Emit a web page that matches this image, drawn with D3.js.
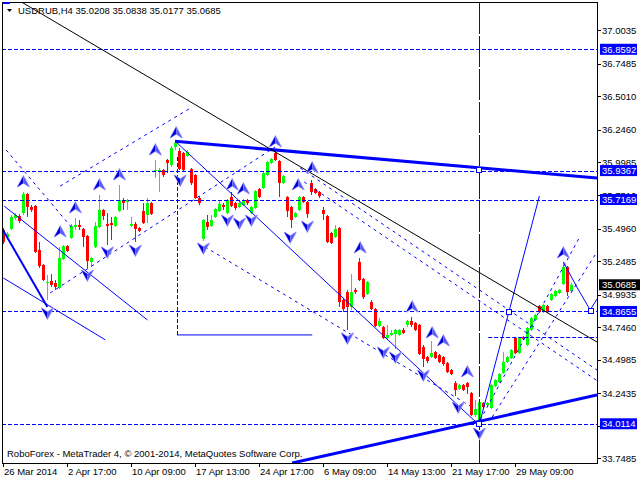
<!DOCTYPE html>
<html><head><meta charset="utf-8">
<script src="https://cdn.jsdelivr.net/npm/d3@7"></script>
<style>
body{margin:0;background:#fff}
svg{display:block}
text{font-family:"Liberation Sans",Arial,sans-serif;font-size:9.5px}
</style>
</head><body>
<svg id="c" width="640" height="480"></svg>
<script>
// ---------- data ----------
const symbolLabel = "USDRUB,H4";
const lastQuote = [35.0208, 35.0838, 35.0177, 35.0685];
const footer = "RoboForex - MetaTrader 4, \u00A9 2001-2014, MetaQuotes Software Corp.";

const opens = [35.485,35.432,35.493,35.576,35.591,35.614,35.759,35.660,35.668,35.333,35.219,35.082,35.097,35.082,35.044,35.264,35.363,35.424,35.508,35.523,
35.493,35.439,35.242,35.356,35.508,35.637,35.531,35.538,35.515,35.629,35.713,35.698,35.515,35.531,35.500,35.629,35.599,35.690,35.934,35.926,
35.941,36.017,35.979,36.116,36.086,36.071,36.048,35.949,35.903,35.728,35.417,35.546,35.515,35.584,35.629,35.675,35.614,35.736,35.690,35.660,
35.675,35.713,35.614,35.652,35.797,35.804,35.903,35.995,36.071,36.010,35.842,35.736,35.660,35.584,35.637,35.736,35.698,35.842,35.797,35.774,
35.637,35.591,35.462,35.432,35.500,34.953,35.013,34.899,35.029,35.242,35.112,34.998,34.937,34.884,34.755,34.747,34.664,34.687,34.694,34.687,
34.725,34.763,34.793,34.778,34.763,34.595,34.519,34.519,34.557,34.534,34.519,34.473,34.420,34.321,34.276,34.306,34.321,34.245,34.078,34.017,
34.169,34.154,34.131,34.298,34.329,34.397,34.481,34.511,34.664,34.549,34.671,34.611,34.725,34.801,34.907,34.861,34.907,34.953,34.983,35.006,
35.074,35.204,35.0208];
const highs = [35.500,35.470,35.599,35.614,35.607,35.774,35.766,35.675,35.675,35.394,35.226,35.143,35.150,35.105,35.356,35.371,35.371,35.531,35.576,35.561,
35.500,35.447,35.280,35.546,35.751,35.645,35.614,35.584,35.591,35.827,35.728,35.721,35.584,35.546,35.508,35.690,35.728,35.698,36.017,35.957,
35.949,36.025,36.124,36.162,36.109,36.078,36.093,35.957,35.911,35.743,35.569,35.599,35.599,35.652,35.713,35.690,35.721,35.774,35.698,35.706,
35.721,35.721,35.668,35.789,35.804,35.926,36.010,36.033,36.086,36.017,35.903,35.743,35.668,35.622,35.743,35.743,35.706,35.865,35.804,35.781,
35.660,35.599,35.470,35.523,35.508,34.968,35.029,35.150,35.044,35.272,35.120,35.097,34.953,34.892,34.816,34.755,34.763,34.725,34.732,34.732,
34.740,34.801,34.823,34.785,34.770,34.611,34.527,34.641,34.565,34.542,34.527,34.481,34.428,34.336,34.314,34.314,34.329,34.253,34.192,34.185,
34.177,34.177,34.314,34.352,34.397,34.557,34.527,34.580,34.671,34.671,34.679,34.747,34.823,34.846,34.915,34.922,34.915,35.006,35.029,35.036,
35.242,35.211,35.0838];
const lows = [35.378,35.409,35.485,35.561,35.538,35.599,35.584,35.622,35.310,35.196,35.097,34.953,35.052,35.029,35.036,35.257,35.318,35.417,35.485,35.485,
35.356,35.196,35.204,35.348,35.500,35.561,35.371,35.409,35.508,35.622,35.637,35.637,35.508,35.394,35.470,35.531,35.538,35.599,35.880,35.774,
35.888,35.918,35.964,36.093,35.941,35.934,36.040,35.827,35.721,35.675,35.401,35.485,35.508,35.576,35.622,35.637,35.607,35.660,35.637,35.652,
35.668,35.675,35.607,35.645,35.728,35.797,35.895,35.987,36.010,35.736,35.835,35.584,35.500,35.576,35.629,35.690,35.576,35.751,35.759,35.728,
35.561,35.386,35.378,35.424,34.899,34.861,34.725,34.877,34.998,35.097,34.960,34.991,34.877,34.747,34.747,34.656,34.648,34.679,34.580,34.679,
34.694,34.747,34.747,34.717,34.534,34.443,34.473,34.511,34.504,34.473,34.451,34.397,34.382,34.223,34.268,34.261,34.238,34.070,34.063,34.0114,
34.131,34.146,34.124,34.291,34.321,34.390,34.473,34.504,34.542,34.542,34.648,34.603,34.717,34.793,34.854,34.854,34.854,34.945,34.975,34.998,
35.067,34.983,35.0177];
const closes = [35.394,35.455,35.584,35.599,35.553,35.759,35.660,35.637,35.318,35.211,35.105,35.090,35.067,35.052,35.272,35.363,35.325,35.515,35.523,35.508,
35.432,35.249,35.272,35.515,35.637,35.591,35.515,35.523,35.584,35.713,35.690,35.713,35.531,35.493,35.477,35.538,35.690,35.607,35.941,35.941,
35.903,35.995,36.109,36.147,35.949,35.941,36.078,35.842,35.728,35.690,35.561,35.508,35.561,35.645,35.683,35.660,35.713,35.668,35.652,35.690,
35.713,35.690,35.660,35.781,35.736,35.918,36.002,36.025,36.017,35.842,35.895,35.629,35.561,35.614,35.736,35.698,35.607,35.774,35.766,35.743,
35.607,35.394,35.386,35.493,34.937,34.884,34.899,35.013,35.013,35.105,34.975,35.090,34.884,34.755,34.793,34.664,34.687,34.702,34.725,34.725,
34.702,34.793,34.763,34.725,34.542,34.504,34.489,34.549,34.511,34.481,34.466,34.405,34.390,34.268,34.306,34.268,34.291,34.078,34.124,34.177,
34.139,34.169,34.306,34.344,34.390,34.481,34.519,34.572,34.549,34.664,34.656,34.740,34.816,34.839,34.861,34.915,34.861,34.998,35.021,35.029,
35.204,35.013,35.0685];

const xTickIndex  = [0, 16, 32, 48, 64, 80, 96, 112, 128];
const xTickLabels = ["26 Mar 2014","2 Apr 17:00","10 Apr 09:00","17 Apr 13:00","24 Apr 17:00","6 May 09:00","14 May 13:00","21 May 17:00","29 May 09:00"];
const yTicks = [37.0035,36.7485,36.5010,36.2460,35.9985,35.7510,35.4960,35.2485,34.9935,34.7460,34.4985,34.2435,33.9960,33.7485];
const yTickHidden = [33.9960];
const levelPrices = [36.8592, 35.9367, 35.7169, 34.8655, 34.0114];

// arrow markers: [bar index, price]
const upArrows = [[5.1,35.850],[14.3,35.470],[18.1,35.652],[24.1,35.827],[29.1,35.903],[38.1,36.093],[43.3,36.223],
  [57.3,35.827],[60.1,35.797],[68.1,36.154],[73.8,35.827],[77.3,35.956],[89.3,35.348],[102.3,34.899],[107.3,34.702],
  [110.1,34.641],[116.1,34.405],[140.1,35.310]];
const downArrows = [[11.1,34.854],[21.1,35.143],[26.1,35.318],[33.1,35.333],[44.3,35.865],[50.1,35.348],[56.1,35.561],
  [59.1,35.538],[62.1,35.561],[71.8,35.432],[76.1,35.515],[86.1,34.664],[95.1,34.557],[98.1,34.519],[105.1,34.382],
  [113.8,34.139],[119.1,33.941]];

// trend lines: [i1, p1, i2, p2]
const blackLines  = [[4.6,37.219,148.5,34.633]];
const thickLines  = [[43.0,36.160,148.5,35.880],[72.3,33.713,148.5,34.230]];
const mediumLines = [[-0.3,35.500,11.1,34.899]];
const thinLines   = [[43.3,36.154,119.3,33.994],[0.3,35.667,36.1,34.801],[0.1,35.120,25.6,34.649],
  [43.5,34.687,77.3,34.687],[119.1,34.010,134.1,35.744]];
const zigzag = [[140.1,35.242],[143.6,35.044],[146.8,34.877],[148.5,34.960]];
const dashedLines = [[0.8,36.093,17.3,35.500],[11.8,35.006,68.0,36.116],[14.3,35.819,47.3,36.420],
  [50.5,35.356,116.8,34.147],[74.3,35.957,148.5,34.420],[75.3,35.850,148.5,34.340],
  [119.3,34.040,144.3,35.439],[122.3,34.063,148.5,35.318]];
const shortLevels = [[121.3,34.671,148.5]];
const vDashed = [[119.0,33.713,37.219]];
const vDashedShort = [[43.5,36.040,34.687]];
const anchorSquares = [[119.0,34.010],[126.5,34.861],[147.0,34.869],[119.0,35.941]];

// ---------- chart ----------
const L = 2, T = 2, R = 597, B = 463;
const svg = d3.select("#c");
const x = d3.scaleLinear().domain([-0.25, 148.5]).range([L, R]);
const y = d3.scaleLinear().domain([33.7131, 37.2188]).range([B, T]);
const BLUE = "#0000ff";

svg.append("rect").attr("width",640).attr("height",480).attr("fill","#fff");
svg.append("clipPath").attr("id","pc").append("rect")
  .attr("x",L).attr("y",T).attr("width",R-L).attr("height",B-T);
const g = svg.append("g").attr("clip-path","url(#pc)");

// candles
const bars = opens.map((o,i)=>({i,o,h:highs[i],l:lows[i],c:closes[i]}));
const cg = g.append("g");
cg.selectAll("line.w").data(bars).join("line")
  .attr("x1",d=>Math.round(x(d.i))+0.5).attr("x2",d=>Math.round(x(d.i))+0.5)
  .attr("y1",d=>y(d.h)).attr("y2",d=>y(d.l))
  .attr("stroke",d=>d.c>=d.o?"#00ff00":"#ff0000").attr("stroke-width",1);
cg.selectAll("rect.b").data(bars).join("rect")
  .attr("x",d=>Math.round(x(d.i))-1).attr("width",3)
  .attr("y",d=>y(Math.max(d.o,d.c))).attr("height",d=>Math.max(1,Math.abs(y(d.o)-y(d.c))))
  .attr("fill",d=>d.c>=d.o?"#00ff00":"#ff0000");

// level lines
g.selectAll("line.lv").data(levelPrices).join("line")
  .attr("x1",L).attr("x2",R).attr("y1",d=>Math.round(y(d))+0.5).attr("y2",d=>Math.round(y(d))+0.5)
  .attr("stroke",BLUE).attr("stroke-dasharray","4,2");
g.selectAll(null).data(shortLevels).join("line")
  .attr("x1",d=>x(d[0])).attr("x2",d=>x(d[2])).attr("y1",d=>Math.round(y(d[1]))+0.5).attr("y2",d=>Math.round(y(d[1]))+0.5)
  .attr("stroke",BLUE).attr("stroke-dasharray","4,2");

function seg(sel, data, color, w, dash){
  sel.selectAll(null).data(data).join("line")
    .attr("x1",d=>x(d[0])).attr("y1",d=>y(d[1])).attr("x2",d=>x(d[2])).attr("y2",d=>y(d[3]))
    .attr("stroke",color).attr("stroke-width",w).attr("stroke-dasharray",dash||null);
}
seg(g, dashedLines, BLUE, 1, "3,4");
seg(g, thinLines, BLUE, 1);
seg(g, mediumLines, BLUE, 2);
seg(g, thickLines, BLUE, 3);
seg(g, blackLines, "#000", 1);
g.append("path").datum(zigzag)
  .attr("d", d3.line().x(d=>x(d[0])).y(d=>y(d[1])))
  .attr("fill","none").attr("stroke",BLUE);
g.selectAll(null).data(vDashed).join("line")
  .attr("x1",d=>Math.round(x(d[0]))+0.5).attr("x2",d=>Math.round(x(d[0]))+0.5)
  .attr("y1",d=>y(d[1])).attr("y2",d=>y(d[2]))
  .attr("stroke",BLUE).attr("stroke-dasharray","31,2");
g.selectAll(null).data(vDashedShort).join("line")
  .attr("x1",d=>Math.round(x(d[0]))+0.5).attr("x2",d=>Math.round(x(d[0]))+0.5)
  .attr("y1",d=>y(d[1])).attr("y2",d=>y(d[2]))
  .attr("stroke",BLUE).attr("stroke-dasharray","4,2");
g.selectAll(null).data(anchorSquares).join("rect")
  .attr("x",d=>x(d[0])-2.5).attr("y",d=>y(d[1])-2.5).attr("width",5).attr("height",5)
  .attr("fill","#fff").attr("stroke",BLUE);

// arrows
function arrows(data, up){
  const s = up ? 1 : -1;
  const ag = g.selectAll(null).data(data).join("g")
    .attr("transform",d=>`translate(${x(d[0])},${y(d[1])})`);
  ag.append("path").attr("d",`M0,${-6*s}L-6,${5*s}L0,${1*s}L6,${5*s}Z`)
    .attr("fill","none").attr("stroke","#b4b4ff").attr("stroke-width",1.4);
  ag.append("path").attr("d",`M0,${-6*s}L-6,${5*s}L0,${1*s}Z`).attr("fill","#0000dc");
  ag.append("path").attr("d",`M0,${-6*s}L6,${5*s}L0,${1*s}Z`).attr("fill","#5a5af8");
}
arrows(upArrows, true);
arrows(downArrows, false);

// frame
svg.append("rect").attr("x",L+0.5).attr("y",T+0.5).attr("width",R-L).attr("height",B-T)
  .attr("fill","none").attr("stroke","#000");

// y axis
const ya = svg.append("g");
ya.selectAll("line").data(yTicks).join("line")
  .attr("x1",R).attr("x2",R+4).attr("y1",d=>Math.round(y(d))+0.5).attr("y2",d=>Math.round(y(d))+0.5)
  .attr("stroke","#000");
ya.selectAll("text").data(yTicks.filter(v=>!yTickHidden.includes(v))).join("text")
  .attr("x",602).attr("y",d=>y(d)+3.5).text(d=>d.toFixed(4)).attr("fill","#000");
// level price tags
const tags = svg.append("g");
tags.selectAll("rect").data(levelPrices).join("rect")
  .attr("x",600).attr("y",d=>y(d)-5.5).attr("width",37).attr("height",11).attr("fill",BLUE);
tags.selectAll("text").data(levelPrices).join("text")
  .attr("x",602).attr("y",d=>y(d)+3.5).text(d=>d.toFixed(4)).attr("fill","#fff");
const lastC = lastQuote[3];
svg.append("rect").attr("x",599).attr("y",y(lastC)-5.5).attr("width",41).attr("height",11).attr("fill","#000");
svg.append("text").attr("x",602).attr("y",y(lastC)+3.5).text(lastC.toFixed(4)).attr("fill","#fff");

// x axis
const xa = svg.append("g");
xa.selectAll("line").data(xTickIndex).join("line")
  .attr("x1",d=>Math.round(x(d))+0.5).attr("x2",d=>Math.round(x(d))+0.5)
  .attr("y1",B).attr("y2",B+4).attr("stroke","#000");
xa.selectAll("text").data(xTickIndex).join("text")
  .attr("x",d=>x(d)+1).attr("y",475).text((d,k)=>xTickLabels[k]).attr("fill","#000");

// header
svg.append("rect").attr("x",3).attr("y",2).attr("width",7).attr("height",2).attr("fill",BLUE);
svg.append("path").attr("d","M7,9L12,9L9.5,12Z").attr("fill","#000");
svg.append("text").attr("x",18).attr("y",14)
  .text(symbolLabel + "  " + lastQuote.map(v=>v.toFixed(4)).join(" ")).attr("fill","#000");
svg.append("text").attr("x",7).attr("y",457).text(footer).attr("fill","#000");
</script>
</body></html>
